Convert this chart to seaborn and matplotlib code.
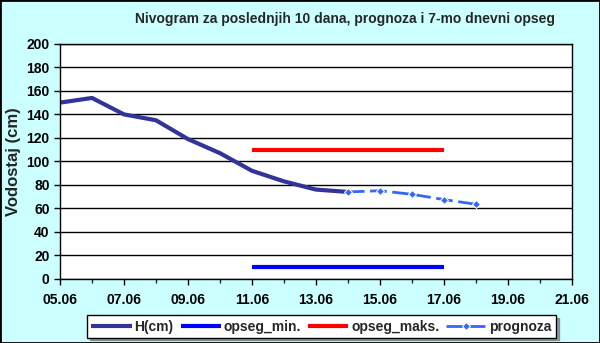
import pandas as pd
import matplotlib.pyplot as plt
import seaborn as sns

# podaci (dan u junu)
days_h = [5, 6, 7, 8, 9, 10, 11, 12, 13, 14]
h_cm = [150, 154, 140, 135, 119, 107, 92, 83, 76, 74]

days_prog = [14, 15, 16, 17, 18]
prognoza = [74, 75, 72, 67.5, 63.5]

days_range = [11, 17]
opseg_min = [10, 10]
opseg_maks = [110, 110]

x_ticks = [5, 7, 9, 11, 13, 15, 17, 19, 21]
x_labels = ['05.06', '07.06', '09.06', '11.06', '13.06', '15.06', '17.06', '19.06', '21.06']

sns.set_style('white')
plt.rcParams['font.family'] = ['Liberation Sans', 'DejaVu Sans']
plt.rcParams['font.weight'] = 'bold'

fig = plt.figure(figsize=(6, 3.43), dpi=100, facecolor='#CCFFFF')
ax = fig.add_axes([0.1, 0.187, 0.853, 0.685])
ax.set_facecolor('white')

sns.lineplot(x=days_h, y=h_cm, ax=ax, color='#333399', linewidth=3, label='H(cm)')
sns.lineplot(x=days_range, y=opseg_min, ax=ax, color='#0000FF', linewidth=3, label='opseg_min.')
sns.lineplot(x=days_range, y=opseg_maks, ax=ax, color='#FF0000', linewidth=3, label='opseg_maks.')
sns.lineplot(x=days_prog, y=prognoza, ax=ax, color='#3366FF', linewidth=2,
             marker='D', markersize=4, dashes=False, linestyle=(0, (6, 2)), label='prognoza')
for ln in ax.get_lines():
    ln.set_solid_capstyle('butt')

ax.set_xlim(5, 21)
ax.set_ylim(0, 200)
ax.set_yticks(range(0, 201, 20))
ax.set_xticks(x_ticks)
ax.set_xticklabels(x_labels)
ax.set_xticks(range(5, 22), minor=True)
ax.tick_params(axis='both', which='major', direction='out', length=4, width=1,
               colors='black', labelsize=10, bottom=True, left=True)
ax.tick_params(axis='x', which='major', pad=6)
ax.tick_params(axis='x', which='minor', direction='out', length=3, width=1, bottom=True)
for lab in ax.get_xticklabels() + ax.get_yticklabels():
    lab.set_fontweight('bold')

ax.grid(axis='y', color='black', linewidth=1)
ax.set_axisbelow(True)
for s in ax.spines.values():
    s.set_color('black')
    s.set_linewidth(1)

ax.set_ylabel('Vodostaj (cm)', fontsize=12, fontweight='bold', labelpad=4)
ax.set_xlabel('')
fig.text(0.575, 0.945, 'Nivogram za poslednjih 10 dana, prognoza i 7-mo dnevni opseg',
         ha='center', va='center', fontsize=10, fontweight='bold')

ax.legend_.remove()
handles, labels = ax.get_legend_handles_labels()
leg = fig.legend(handles, labels, loc='center', bbox_to_anchor=(0.536, 0.048), ncol=4,
                 frameon=True, fancybox=False, shadow=True, fontsize=10,
                 handlelength=2.9, handletextpad=0.2, columnspacing=0.5,
                 borderpad=0.3, edgecolor='black')
leg.get_frame().set_linewidth(1)
for t in leg.get_texts():
    t.set_fontweight('bold')

fig.patches.append(plt.Rectangle((0, 0), 1, 1, transform=fig.transFigure, fill=False,
                                 edgecolor='black', linewidth=2))

plt.savefig('out.png', dpi=100, facecolor=fig.get_facecolor())
plt.close()
